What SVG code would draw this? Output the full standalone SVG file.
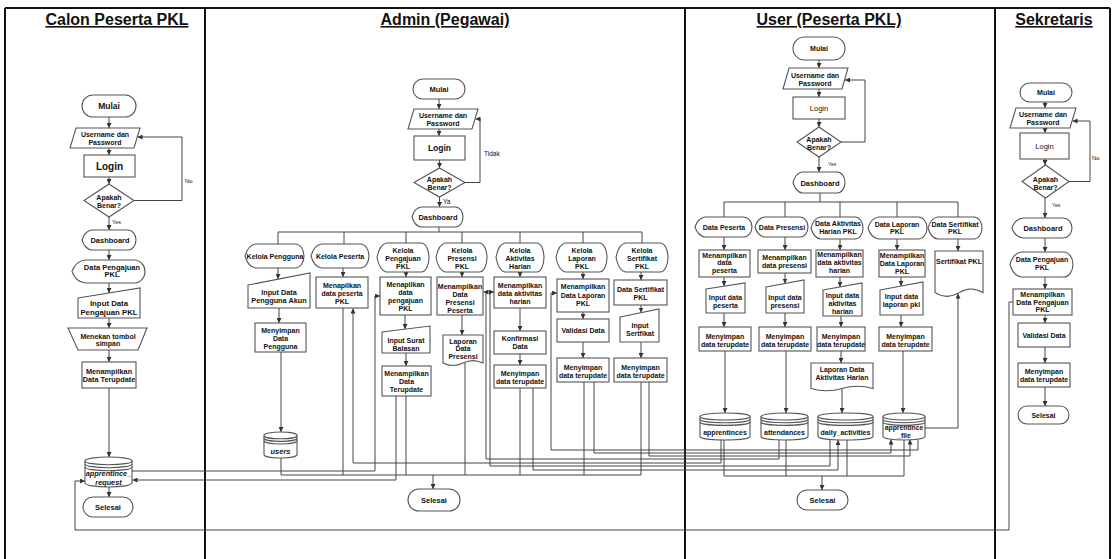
<svg xmlns="http://www.w3.org/2000/svg" width="1113" height="559" viewBox="0 0 1113 559">
<style>
.s{fill:#fff;stroke:#555;stroke-width:1.1}
.sn{fill:none;stroke:#555;stroke-width:1.1}
.ns{vector-effect:non-scaling-stroke}
.c{fill:none;stroke:#444;stroke-width:1}
.a{marker-end:url(#ah)}
.ln{stroke:#111;stroke-width:2;fill:none}
.t{font-family:"Liberation Sans",Arial,Helvetica,sans-serif;font-weight:bold;font-size:7px;fill:#111;text-anchor:middle}
.ttl{font-size:16px;text-decoration:underline}
.lb{font-size:6px;font-weight:normal;text-anchor:start}
.r{font-weight:normal}
.it{font-style:italic}
</style>
<defs>
<marker id="ah" viewBox="0 0 6 6" refX="6" refY="3" markerWidth="5" markerHeight="5" orient="auto" markerUnits="userSpaceOnUse"><path d="M0,0 L6,3 L0,6 Z" fill="#333"/></marker>
<path id="disp" class="s ns" d="M0,0.5 Q0.05,0.05 0.18,0 H0.85 A0.15,0.5 0 0 1 0.85,1 H0.18 Q0.05,0.95 0,0.5 Z"/>
<path id="doc" class="s ns" d="M0,0 H1 V0.85 Q0.75,0.7 0.5,0.85 T0,0.85 Z"/>
<g id="cyl">
<path class="s ns" d="M0,0.13 A0.5,0.13 0 0 1 1,0.13 V0.87 A0.5,0.13 0 0 1 0,0.87 Z"/>
<path class="sn ns" d="M0,0.13 A0.5,0.13 0 0 0 1,0.13 M0,0.23 A0.5,0.13 0 0 0 1,0.23 M0,0.33 A0.5,0.13 0 0 0 1,0.33"/>
</g>
</defs>
<rect width="1113" height="559" fill="#fff"/>
<g id="lanes">
<path class="ln" d="M5,8 H1110 M5,8 V559 M205,8 V559 M685,8 V559 M995,8 V559 M1110,8 V559"/>
<text class="t ttl" x="117" y="25">Calon Peserta PKL</text>
<text class="t ttl" x="445" y="25">Admin (Pegawai)</text>
<text class="t ttl" x="829" y="25">User (Peserta PKL)</text>
<text class="t ttl" x="1054" y="25">Sekretaris</text>
</g>

<g id="connectors">
<!-- lane 1 -->
<path class="c a" d="M109,117 V128"/>
<path class="c a" d="M109,148 V155"/>
<path class="c a" d="M109,177 V184"/>
<path class="c a" d="M109,217 V230"/>
<path class="c a" d="M109,250 V260"/>
<path class="c a" d="M109,283 V293"/>
<path class="c a" d="M109,318 V328"/>
<path class="c a" d="M109,350 V362"/>
<path class="c a" d="M109,388 V457"/>
<path class="c a" d="M109,487 V497"/>
<path class="c a" d="M134,200.5 H182 V137 H137.5"/>
<!-- admin top -->
<path class="c a" d="M439,99 V109"/>
<path class="c a" d="M439,129 V136"/>
<path class="c a" d="M439.5,160 V168"/>
<path class="c a" d="M439.5,197 V207"/>
<path class="c a" d="M465,182.5 H480 V119 H475.5"/>
<path class="c" d="M439,227 V232 M278,232 H642 M278,232 V244 M344,232 V244 M406,232 V243 M462,232 V243 M520,232 V243 M583,232 V243 M642,232 V243"/>
<path class="c a" d="M278,268 V279"/>
<path class="c a" d="M343,268 V277"/>
<path class="c a" d="M406,272 V277"/>
<path class="c a" d="M462,272 V277"/>
<path class="c a" d="M520,272 V277"/>
<path class="c a" d="M583,272 V279"/>
<path class="c a" d="M641,272 V280"/>
<path class="c a" d="M279,308 V323"/>
<path class="c a" d="M281,352 V432"/>
<path class="c a" d="M405,315 V329"/>
<path class="c a" d="M406,353 V366"/>
<path class="c a" d="M462,315 V335"/>
<path class="c a" d="M520,308 V331"/>
<path class="c a" d="M520,354 V365"/>
<path class="c a" d="M583,312 V319"/>
<path class="c a" d="M583,342 V358"/>
<path class="c a" d="M641,305 V312.5"/>
<path class="c a" d="M641,342 V358"/>
<!-- admin selesai bus -->
<path class="c" d="M281,458 V475 H641 M343,308 V475 M406,396 V475 M465,363 V475 M520,388 V475 M584,382 V475 M641,382 V475"/>
<path class="c a" d="M433,475 V489"/>
<!-- cross-lane data lines -->
<path class="c a" d="M132,471 H375 V296 H380"/>
<path class="c a" d="M396,396 V480 H132.5"/>
<path class="c a" d="M721,439.5 V463 H353 V308.5"/>
<path class="c a" d="M779,439.5 V459 H486 V292 H483.5"/>
<path class="c a" d="M830,439.5 V466 H490 V292 H494"/>
<path class="c a" d="M533,388 V470 H838 V440"/>
<path class="c a" d="M918,438.5 V450 H551 V293 H557"/>
<path class="c a" d="M594,382 V453 H891 V439.5"/>
<path class="c a" d="M649,382 V456 H910 V439.5"/>
<path class="c a" d="M925,428 H958 V293.5"/>
<path class="c a" d="M1013,302 H1009 V530 H75 V481 H85"/>
<!-- user -->
<path class="c a" d="M819,60 V68"/>
<path class="c a" d="M819,89 V97"/>
<path class="c a" d="M819,119 V127"/>
<path class="c a" d="M819,157 V172"/>
<path class="c a" d="M841,142 H865 V80 H845"/>
<path class="c" d="M820,193 V202 M724,202 H958 M724,202 V217 M785,202 V217 M840,202 V217 M897,202 V217 M958,202 V217"/>
<path class="c a" d="M724,237 V250"/>
<path class="c a" d="M785,237 V250"/>
<path class="c a" d="M840,239 V250"/>
<path class="c a" d="M897,239 V250"/>
<path class="c a" d="M958,239 V251"/>
<path class="c a" d="M724,277 V286"/>
<path class="c a" d="M785,273 V283.5"/>
<path class="c a" d="M840,277 V287"/>
<path class="c a" d="M901,277 V286"/>
<path class="c a" d="M724,313 V327"/>
<path class="c a" d="M785,313 V327"/>
<path class="c a" d="M841,316 V327"/>
<path class="c a" d="M901,315 V327"/>
<path class="c a" d="M725,351 V413"/>
<path class="c a" d="M786,351 V413"/>
<path class="c a" d="M841,351 V363"/>
<path class="c a" d="M842,389 V413"/>
<path class="c a" d="M903,351 V413"/>
<path class="c" d="M724,439.5 V476 H904 V439.5 M786,439.5 V476 M847,439.5 V476"/>
<path class="c a" d="M822,476 V490"/>
<!-- sekretaris -->
<path class="c a" d="M1045,102 V108"/>
<path class="c a" d="M1045,128 V133"/>
<path class="c a" d="M1045,159 V165"/>
<path class="c a" d="M1045,198 V218"/>
<path class="c a" d="M1045,238 V252"/>
<path class="c a" d="M1045,277 V289"/>
<path class="c a" d="M1045,315 V323"/>
<path class="c a" d="M1045,347 V363"/>
<path class="c a" d="M1045,387 V406"/>
<path class="c a" d="M1069,181.5 H1090 V121 H1072.5"/>
</g>

<g id="labels">
<text class="t lb" x="185" y="182.5">No</text>
<text class="t lb" x="112" y="223.5" style="font-size:5.5px">Yes</text>
<text class="t lb" x="443" y="204" style="font-size:6.5px">Ya</text>
<text class="t lb" x="484" y="155.5" style="font-size:6.5px">Tidak</text>
<text class="t lb" x="828" y="166" style="font-size:5px">Yes</text>
<text class="t lb" x="1052" y="207" style="font-size:5px">Yes</text>
<text class="t lb" x="1092" y="160">No</text>
</g>

<!-- ===== Lane 1: Calon Peserta PKL ===== -->
<g id="c-mulai"><rect class="s" x="82" y="95" width="54" height="22" rx="11"/><text class="t" x="109" y="109" style="font-size:8.5px">Mulai</text></g>
<g id="c-username"><polygon class="s" points="76,128 140,128 134,148 70,148"/><text class="t" x="105" y="136.5"><tspan x="105">Username dan</tspan><tspan x="105" dy="8">Password</tspan></text></g>
<g id="c-login"><rect class="s" x="84" y="155" width="51" height="22"/><text class="t" x="109.5" y="169.5" style="font-size:10px">Login</text></g>
<g id="c-cek"><polygon class="s" points="109,184 134,200.5 109,217 84,200.5"/><text class="t" x="109" y="199.5"><tspan x="109">Apakah</tspan><tspan x="109" dy="8">Benar?</tspan></text></g>
<g id="c-dashboard"><use href="#disp" transform="translate(82 230) scale(54 20)"/><text class="t" x="110" y="243" style="font-size:7.5px">Dashboard</text></g>
<g id="c-datapengajuan"><use href="#disp" transform="translate(72 260) scale(73 23)"/><text class="t" x="112" y="269.5" style="font-size:7.5px"><tspan x="112">Data Pengajuan</tspan><tspan x="112" dy="7.5">PKL</tspan></text></g>
<g id="c-input"><polygon class="s" points="78,298 140,288 140,318 78,318"/><text class="t" x="109" y="305.5" style="font-size:7.8px"><tspan x="109">Input Data</tspan><tspan x="109" dy="9">Pengajuan PKL</tspan></text></g>
<g id="c-simpan"><polygon class="s" points="68,328 147,328 138,350 78,350"/><text class="t" x="108" y="338.5"><tspan x="108">Menekan tombol</tspan><tspan x="108" dy="7.5">simpan</tspan></text></g>
<g id="c-tampil"><rect class="s" x="82" y="362" width="54" height="26"/><text class="t" x="109" y="373.5" style="font-size:7.3px"><tspan x="109">Menampilkan</tspan><tspan x="109" dy="8">Data Terupdate</tspan></text></g>
<g id="c-db-request"><use href="#cyl" transform="translate(85 457) scale(47 30)"/><text class="t it" x="108.5" y="475.5" style="font-size:7.3px"><tspan x="108.5">apprentince_</tspan><tspan x="108.5" dy="9">request</tspan></text></g>
<g id="c-selesai"><rect class="s" x="83" y="497" width="50" height="20" rx="10"/><text class="t" x="108" y="510" style="font-size:7.5px">Selesai</text></g>

<!-- ===== Lane 2: Admin ===== -->
<g id="a-mulai"><rect class="s" x="413" y="79" width="52" height="20" rx="10"/><text class="t" x="439" y="92" style="font-size:7.5px">Mulai</text></g>
<g id="a-username"><polygon class="s" points="414,109 478,109 472,129 408,129"/><text class="t" x="443" y="118"><tspan x="443">Username dan</tspan><tspan x="443" dy="7.5">Password</tspan></text></g>
<g id="a-login"><rect class="s" x="414" y="136" width="51" height="24"/><text class="t" x="439.5" y="151" style="font-size:8.5px">Login</text></g>
<g id="a-cek"><polygon class="s" points="439.5,168 465,182.5 439.5,197 414,182.5"/><text class="t" x="439.5" y="182"><tspan x="439.5">Apakah</tspan><tspan x="439.5" dy="8">Benar?</tspan></text></g>
<g id="a-dashboard"><use href="#disp" transform="translate(412 207) scale(51 20)"/><text class="t" x="438" y="219.5" style="font-size:7.5px">Dashboard</text></g>

<g id="a-kelola-pengguna"><use href="#disp" transform="translate(245 244) scale(59 24)"/><text class="t" x="275" y="258.5">Kelola Pengguna</text></g>
<g id="a-kelola-peserta"><use href="#disp" transform="translate(311 244) scale(58 24)"/><text class="t" x="340" y="258.5">Kelola Peserta</text></g>
<g id="a-kelola-pengajuan"><use href="#disp" transform="translate(377 243) scale(52 29)"/><text class="t" x="403" y="252.5"><tspan x="403">Kelola</tspan><tspan x="403" dy="8">Pengajuan</tspan><tspan x="403" dy="8">PKL</tspan></text></g>
<g id="a-kelola-presensi"><use href="#disp" transform="translate(436 243) scale(51 29)"/><text class="t" x="462" y="252.5"><tspan x="462">Kelola</tspan><tspan x="462" dy="8">Presensi</tspan><tspan x="462" dy="8">PKL</tspan></text></g>
<g id="a-kelola-aktivitas"><use href="#disp" transform="translate(496 243) scale(48 29)"/><text class="t" x="520" y="252.5"><tspan x="520">Kelola</tspan><tspan x="520" dy="8">Aktivitas</tspan><tspan x="520" dy="8">Harian</tspan></text></g>
<g id="a-kelola-laporan"><use href="#disp" transform="translate(556 243) scale(51 29)"/><text class="t" x="582" y="252.5"><tspan x="582">Kelola</tspan><tspan x="582" dy="8">Laporan</tspan><tspan x="582" dy="8">PKL</tspan></text></g>
<g id="a-kelola-sertifikat"><use href="#disp" transform="translate(616 243) scale(52 29)"/><text class="t" x="642" y="252.5"><tspan x="642">Kelola</tspan><tspan x="642" dy="8">Sertifikat</tspan><tspan x="642" dy="8">PKL</tspan></text></g>

<g id="a-input-pengguna"><polygon class="s" points="248,285 310,273 310,308 248,308"/><text class="t" x="279" y="294.5" style="font-size:7.3px"><tspan x="279">Input Data</tspan><tspan x="279" dy="8">Pengguna Akun</tspan></text></g>
<g id="a-simpan-pengguna"><rect class="s" x="255" y="323" width="51" height="29"/><text class="t" x="280.5" y="332.5"><tspan x="280.5">Menyimpan</tspan><tspan x="280.5" dy="8">Data</tspan><tspan x="280.5" dy="8">Pengguna</tspan></text></g>
<g id="a-db-users"><use href="#cyl" transform="translate(264 432) scale(33 26)"/><text class="t it" x="280.5" y="453.5" style="font-size:7.5px">users</text></g>

<g id="a-tampil-peserta"><rect class="s" x="316" y="277" width="52" height="31"/><text class="t" x="342" y="287.5"><tspan x="342">Menapilkan</tspan><tspan x="342" dy="8">data peserta</tspan><tspan x="342" dy="8">PKL</tspan></text></g>

<g id="a-tampil-pengajuan"><rect class="s" x="380" y="277" width="51" height="38"/><text class="t" x="405.5" y="286.5"><tspan x="405.5">Menapilkan</tspan><tspan x="405.5" dy="8">data</tspan><tspan x="405.5" dy="8">pengajuan</tspan><tspan x="405.5" dy="8">PKL</tspan></text></g>
<g id="a-input-surat"><polygon class="s" points="382,332 430,326 430,353 382,353"/><text class="t" x="406" y="342.5"><tspan x="406">Input Surat</tspan><tspan x="406" dy="8">Balasan</tspan></text></g>
<g id="a-terupdate-pengajuan"><rect class="s" x="382" y="366" width="49" height="30"/><text class="t" x="406.5" y="375.5"><tspan x="406.5">Menampilkan</tspan><tspan x="406.5" dy="8">Data</tspan><tspan x="406.5" dy="8">Terupdate</tspan></text></g>

<g id="a-tampil-presensi"><rect class="s" x="437" y="277" width="46" height="38"/><text class="t" x="460" y="289"><tspan x="460">Menampilkan</tspan><tspan x="460" dy="8">Data</tspan><tspan x="460" dy="8">Presensi</tspan><tspan x="460" dy="8">Peserta</tspan></text></g>
<g id="a-laporan-presensi"><use href="#doc" transform="translate(443 335) scale(40 33)"/><text class="t" x="463" y="343.5"><tspan x="463">Laporan</tspan><tspan x="463" dy="7.5">Data</tspan><tspan x="463" dy="7.5">Presensi</tspan></text></g>

<g id="a-tampil-aktivitas"><rect class="s" x="494" y="277" width="52" height="31"/><text class="t" x="520" y="288"><tspan x="520">Menampilkan</tspan><tspan x="520" dy="8">data aktivitas</tspan><tspan x="520" dy="8">harian</tspan></text></g>
<g id="a-konfirmasi"><rect class="s" x="494" y="331" width="52" height="23"/><text class="t" x="520" y="340.5"><tspan x="520">Konfirmasi</tspan><tspan x="520" dy="8.5">Data</tspan></text></g>
<g id="a-simpan-aktivitas"><rect class="s" x="494" y="365" width="52" height="23"/><text class="t" x="520" y="375.5"><tspan x="520">Menyimpan</tspan><tspan x="520" dy="8">data terupdate</tspan></text></g>

<g id="a-tampil-laporan"><rect class="s" x="557" y="279" width="52" height="33"/><text class="t" x="583" y="289"><tspan x="583">Menampilkan</tspan><tspan x="583" dy="8.5">Data Laporan</tspan><tspan x="583" dy="8.5">PKL</tspan></text></g>
<g id="a-validasi"><rect class="s" x="557" y="319" width="52" height="23"/><text class="t" x="583" y="333">Validasi Data</text></g>
<g id="a-simpan-laporan"><rect class="s" x="557" y="358" width="52" height="24"/><text class="t" x="583" y="369.5"><tspan x="583">Menyimpan</tspan><tspan x="583" dy="8">data terupdate</tspan></text></g>

<g id="a-data-sertifikat"><rect class="s" x="614" y="280" width="53" height="25"/><text class="t" x="640.5" y="291.5"><tspan x="640.5">Data Sertifikat</tspan><tspan x="640.5" dy="8">PKL</tspan></text></g>
<g id="a-input-sertifikat"><polygon class="s" points="620,317 659,309 659,342 620,342"/><text class="t" x="640" y="327.5"><tspan x="640">Input</tspan><tspan x="640" dy="8">Sertfikat</tspan></text></g>
<g id="a-simpan-sertifikat"><rect class="s" x="614" y="358" width="53" height="24"/><text class="t" x="640.5" y="369.5"><tspan x="640.5">Menyimpan</tspan><tspan x="640.5" dy="8">data terupdate</tspan></text></g>

<g id="a-selesai"><rect class="s" x="408" y="489" width="52" height="22" rx="11"/><text class="t" x="434" y="502.5" style="font-size:7.5px">Selesai</text></g>

<!-- ===== Lane 3: User ===== -->
<g id="u-mulai"><rect class="s" x="793" y="37" width="52" height="23" rx="11.5"/><text class="t" x="819" y="51">Mulai</text></g>
<g id="u-username"><polygon class="s" points="789,68 848,68 842,89 783,89"/><text class="t" x="815" y="77.5"><tspan x="815">Username dan</tspan><tspan x="815" dy="8">Password</tspan></text></g>
<g id="u-login"><rect class="s" x="793" y="97" width="52" height="22"/><text class="t r" x="819" y="110.5" style="font-size:7.5px">Login</text></g>
<g id="u-cek"><polygon class="s" points="819,127 841,142 819,157 797,142"/><text class="t" x="819" y="141.5"><tspan x="819">Apakah</tspan><tspan x="819" dy="8">Benar?</tspan></text></g>
<g id="u-dashboard"><use href="#disp" transform="translate(793 172) scale(52 21)"/><text class="t" x="820" y="185.5" style="font-size:7.5px">Dashboard</text></g>

<g id="u-data-peserta"><use href="#disp" transform="translate(695 217) scale(57 20)"/><text class="t" x="724" y="229.5">Data Peserta</text></g>
<g id="u-data-presensi"><use href="#disp" transform="translate(755 217) scale(53 20)"/><text class="t" x="782" y="229.5">Data Presensi</text></g>
<g id="u-data-aktivitas"><use href="#disp" transform="translate(811 217) scale(52 22)"/><text class="t" x="838" y="226"><tspan x="838">Data Aktivitas</tspan><tspan x="838" dy="7.5">Harian PKL</tspan></text></g>
<g id="u-data-laporan"><use href="#disp" transform="translate(868 217) scale(59 22)"/><text class="t" x="897" y="226.5"><tspan x="897">Data Laporan</tspan><tspan x="897" dy="7.5">PKL</tspan></text></g>
<g id="u-data-sertifikat"><use href="#disp" transform="translate(928 217) scale(54 22)"/><text class="t" x="955" y="226.5"><tspan x="955">Data Sertifikat</tspan><tspan x="955" dy="7.5">PKL</tspan></text></g>

<g id="u-tampil-peserta"><rect class="s" x="699" y="250" width="51" height="27"/><text class="t" x="724.5" y="257.5"><tspan x="724.5">Menampilkan</tspan><tspan x="724.5" dy="7.5">data</tspan><tspan x="724.5" dy="7.5">peserta</tspan></text></g>
<g id="u-input-peserta"><polygon class="s" points="706,289 745,283 745,313 706,313"/><text class="t" x="725.5" y="299.5"><tspan x="725.5">Input data</tspan><tspan x="725.5" dy="8.5">peserta</tspan></text></g>
<g id="u-simpan-peserta"><rect class="s" x="699" y="327" width="52" height="24"/><text class="t" x="725" y="338.5"><tspan x="725">Menyimpan</tspan><tspan x="725" dy="8">data terupdate</tspan></text></g>
<g id="u-db-apprentinces"><use href="#cyl" transform="translate(700 413) scale(50 27)"/><text class="t" x="725" y="434.5">apprentinces</text></g>

<g id="u-tampil-presensi"><rect class="s" x="758" y="250" width="53" height="23"/><text class="t" x="784.5" y="259.5"><tspan x="784.5">Menampilkan</tspan><tspan x="784.5" dy="8.5">data presensi</tspan></text></g>
<g id="u-input-presensi"><polygon class="s" points="766,287 804,280 804,313 766,313"/><text class="t" x="785" y="299.5"><tspan x="785">Input data</tspan><tspan x="785" dy="8.5">presensi</tspan></text></g>
<g id="u-simpan-presensi"><rect class="s" x="759" y="327" width="52" height="24"/><text class="t" x="785" y="338.5"><tspan x="785">Menyimpan</tspan><tspan x="785" dy="8">data terupdate</tspan></text></g>
<g id="u-db-attendances"><use href="#cyl" transform="translate(761 413) scale(47 27)"/><text class="t" x="784.5" y="434.5">attendances</text></g>

<g id="u-tampil-aktivitas"><rect class="s" x="816" y="250" width="47" height="27"/><text class="t" x="839.5" y="257"><tspan x="839.5">Menampilkan</tspan><tspan x="839.5" dy="8">data aktivitas</tspan><tspan x="839.5" dy="8">harian</tspan></text></g>
<g id="u-input-aktivitas"><polygon class="s" points="823,290 862,283 862,316 823,316"/><text class="t" x="842.5" y="297.5"><tspan x="842.5">Input data</tspan><tspan x="842.5" dy="8">aktivitas</tspan><tspan x="842.5" dy="8">harian</tspan></text></g>
<g id="u-simpan-aktivitas"><rect class="s" x="817" y="327" width="48" height="24"/><text class="t" x="841" y="338.5"><tspan x="841">Menyimpan</tspan><tspan x="841" dy="8">data terupdate</tspan></text></g>
<g id="u-laporan-aktivitas"><use href="#doc" transform="translate(811 363) scale(62 30)"/><text class="t" x="842" y="371.5"><tspan x="842">Laporan Data</tspan><tspan x="842" dy="8">Aktivitas Harian</tspan></text></g>
<g id="u-db-daily"><use href="#cyl" transform="translate(818 413) scale(55 27)"/><text class="t" x="845.5" y="434.5">daily_activities</text></g>

<g id="u-tampil-laporan"><rect class="s" x="879" y="250" width="46" height="27"/><text class="t" x="902" y="257.5"><tspan x="902">Menampilkan</tspan><tspan x="902" dy="8">Data Laporan</tspan><tspan x="902" dy="8">PKL</tspan></text></g>
<g id="u-input-laporan"><polygon class="s" points="880,290 923,282 923,315 880,315"/><text class="t" x="901.5" y="298.5"><tspan x="901.5">Input data</tspan><tspan x="901.5" dy="8">laporan pkl</tspan></text></g>
<g id="u-simpan-laporan"><rect class="s" x="879" y="327" width="53" height="24"/><text class="t" x="905.5" y="338.5"><tspan x="905.5">Menyimpan</tspan><tspan x="905.5" dy="8">data terupdate</tspan></text></g>
<g id="u-db-file"><use href="#cyl" transform="translate(883 413) scale(42 27)"/><text class="t" x="904" y="429.5" style="font-size:6.8px"><tspan x="904">apprentince</tspan><tspan x="904" dy="8">_file</tspan></text></g>

<g id="u-sertifikat"><use href="#doc" transform="translate(935 251) scale(48 49)"/><text class="t" x="959" y="263.5">Sertifikat PKL</text></g>

<g id="u-selesai"><rect class="s" x="797" y="490" width="51" height="20" rx="10"/><text class="t" x="822.5" y="502.5" style="font-size:7.5px">Selesai</text></g>

<!-- ===== Lane 4: Sekretaris ===== -->
<g id="s-mulai"><rect class="s" x="1020" y="83" width="52" height="19" rx="9.5"/><text class="t" x="1046" y="95">Mulai</text></g>
<g id="s-username"><polygon class="s" points="1016,108 1076,108 1070,128 1010,128"/><text class="t" x="1043" y="117"><tspan x="1043">Username dan</tspan><tspan x="1043" dy="8">Password</tspan></text></g>
<g id="s-login"><rect class="s" x="1020" y="133" width="49" height="26"/><text class="t r" x="1044.5" y="148.5" style="font-size:7.5px">Login</text></g>
<g id="s-cek"><polygon class="s" points="1045.5,165 1069,181.5 1045.5,198 1022,181.5"/><text class="t" x="1045.5" y="181.5"><tspan x="1045.5">Apakah</tspan><tspan x="1045.5" dy="8">Benar?</tspan></text></g>
<g id="s-dashboard"><use href="#disp" transform="translate(1012 218) scale(60 20)"/><text class="t" x="1043" y="231" style="font-size:7.5px">Dashboard</text></g>
<g id="s-datapengajuan"><use href="#disp" transform="translate(1010 252) scale(63 25)"/><text class="t" x="1042" y="262"><tspan x="1042">Data Pengajuan</tspan><tspan x="1042" dy="8">PKL</tspan></text></g>
<g id="s-tampil"><rect class="s" x="1013" y="289" width="59" height="26"/><text class="t" x="1042.5" y="296.5"><tspan x="1042.5">Menampilkan</tspan><tspan x="1042.5" dy="8">Data Pengajuan</tspan><tspan x="1042.5" dy="7.5">PKL</tspan></text></g>
<g id="s-validasi"><rect class="s" x="1018" y="323" width="52" height="24"/><text class="t" x="1044" y="337.5">Validasi Data</text></g>
<g id="s-simpan"><rect class="s" x="1018" y="363" width="52" height="24"/><text class="t" x="1044" y="374"><tspan x="1044">Menyimpan</tspan><tspan x="1044" dy="8">data terupdate</tspan></text></g>
<g id="s-selesai"><rect class="s" x="1018" y="406" width="51" height="18" rx="9"/><text class="t" x="1043.5" y="417.5">Selesai</text></g>
</svg>
